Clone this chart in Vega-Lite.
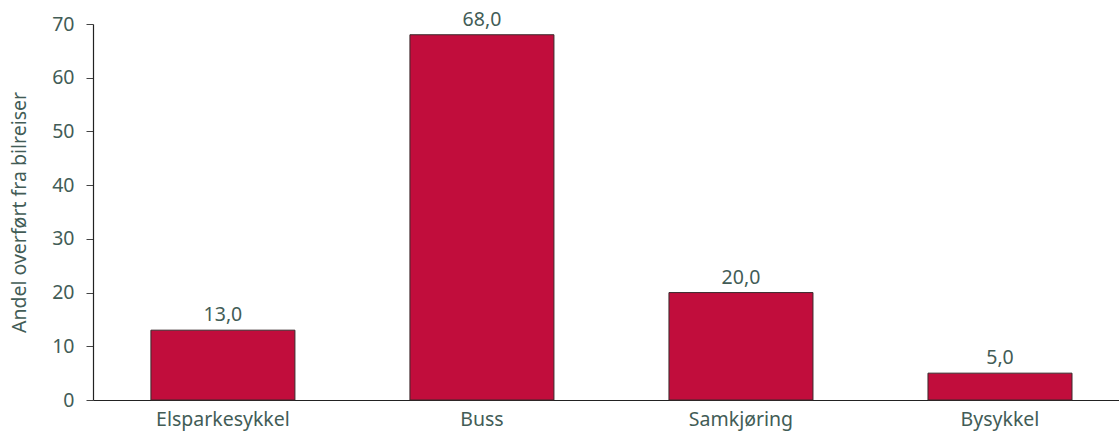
{
  "$schema": "https://vega.github.io/schema/vega-lite/v6.json",
  "autosize": "none",
  "padding": {"left": 93, "top": 24, "right": 0, "bottom": 39},
  "width": 1026,
  "height": 376,
  "config": {
    "locale": {"number": {"decimal": ",", "thousands": " ", "grouping": [3], "currency": ["", " kr"]}},
    "view": {"stroke": null},
    "font": "Noto Sans",
    "axis": {"grid": false, "labelColor": "#425c56", "titleColor": "#425c56", "labelFont": "Noto Sans", "titleFont": "Noto Sans", "labelFontSize": 19.5, "titleFontSize": 19.5, "titleFontWeight": "normal", "domainColor": "#222222", "tickColor": "#444444"}
  },
  "data": {
    "values": [
      {"transport": "Elsparkesykkel", "andel": 13.0},
      {"transport": "Buss", "andel": 68.0},
      {"transport": "Samkjøring", "andel": 20.0},
      {"transport": "Bysykkel", "andel": 5.0}
    ]
  },
  "encoding": {
    "x": {
      "field": "transport",
      "type": "nominal",
      "sort": null,
      "scale": {"paddingInner": 0.444, "paddingOuter": 0.2025, "align": 0.552},
      "axis": {"title": null, "labelAngle": 0, "ticks": false, "labelPadding": 10, "domainWidth": 1.2}
    },
    "y": {
      "field": "andel",
      "type": "quantitative",
      "scale": {"domain": [0, 70], "nice": false},
      "axis": {"title": "Andel overført fra bilreiser", "values": [0, 10, 20, 30, 40, 50, 60, 70], "tickSize": 7, "labelPadding": 12, "titlePadding": 22, "domainWidth": 1.2}
    }
  },
  "layer": [
    {"mark": {"type": "bar", "color": "#c10d3c", "stroke": "#3a2a2c", "strokeWidth": 1}},
    {
      "mark": {"type": "text", "baseline": "alphabetic", "dy": -9, "fontSize": 19.5, "color": "#425c56", "font": "Noto Sans"},
      "encoding": {"text": {"field": "andel", "type": "quantitative", "format": ".1f"}}
    }
  ]
}
